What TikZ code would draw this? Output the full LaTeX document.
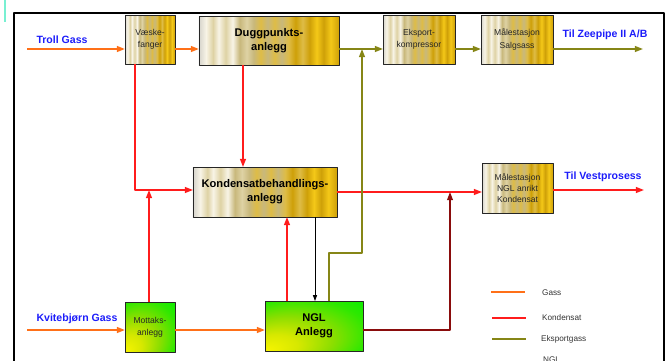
\documentclass[tikz,border=0pt]{standalone}
\usepackage{fontspec}
\setmainfont{Liberation Sans}
\usetikzlibrary{arrows.meta,calc}
\definecolor{gasorange}{RGB}{255,112,24}
\definecolor{kondred}{RGB}{255,28,28}
\definecolor{eksolive}{RGB}{134,134,22}
\definecolor{ngldark}{RGB}{138,12,12}
\definecolor{labelblue}{RGB}{28,28,250}
\definecolor{markteal}{RGB}{120,240,210}
% colours of the striped gold boxes
\definecolor{gA}{RGB}{214,212,204}
\definecolor{gB}{RGB}{248,244,230}
\definecolor{gC}{RGB}{222,210,164}
\definecolor{gD}{RGB}{200,184,124}
\definecolor{gE}{RGB}{222,188,70}
\definecolor{gF}{RGB}{244,200,24}
\definecolor{gG}{RGB}{206,160,8}
\definecolor{yA}{RGB}{248,245,0}
\definecolor{yB}{RGB}{215,232,0}
\definecolor{yC}{RGB}{140,222,0}
\definecolor{yD}{RGB}{45,232,0}
\definecolor{yE}{RGB}{0,242,0}
\pgfdeclarehorizontalshading{goldbars}{100bp}{color(0bp)=(gA); color(25bp)=(gA);
  color(27.5bp)=(gB); color(30bp)=(gC); color(32bp)=(gB); color(34.5bp)=(gC);
  color(37bp)=(gB); color(39.5bp)=(gD); color(42bp)=(gC); color(44.5bp)=(gD);
  color(47bp)=(gE); color(49.5bp)=(gD); color(52bp)=(gE); color(54.5bp)=(gD);
  color(57bp)=(gE); color(59.5bp)=(gG); color(62bp)=(gE); color(64.5bp)=(gG);
  color(67bp)=(gF); color(69.5bp)=(gG); color(72bp)=(gF); color(75bp)=(gG);
  color(100bp)=(gG)}
\pgfdeclareradialshading{greenfan}{\pgfpoint{-25bp}{-25bp}}{color(0bp)=(yA);
  color(11bp)=(yB); color(23bp)=(yC); color(35bp)=(yD); color(44bp)=(yE);
  color(50bp)=(yE)}

\begin{document}
\begin{tikzpicture}[x=0.03cm,y=-0.03cm,line join=round,
  goldbox/.style={draw=black!85,line width=0.8pt,shade,shading=goldbars,
    inner sep=0pt,outer sep=0pt,align=center,text=black!85},
  greenbox/.style={goldbox,shading=greenfan},
  smalltxt/.style={font=\fontsize{7.3}{10.5}\selectfont},
  bigtxt/.style={font=\bfseries\fontsize{9.5}{12}\selectfont,text=black},
  feed/.style={text=labelblue,font=\bfseries\fontsize{9}{11}\selectfont},
  flowtip/.style={-{Triangle[length=7pt,width=5pt]}},
  gasflow/.style={gasorange,line width=1.5pt,flowtip},
  kondflow/.style={kondred,line width=1.4pt,flowtip},
  eksflow/.style={eksolive,line width=1.4pt,flowtip},
  nglflow/.style={ngldark,line width=1.1pt,flowtip},
  legtxt/.style={font=\fontsize{7}{9}\selectfont,text=black!80,anchor=west}]
  \clip (0,0) rectangle (668,360);
  \draw[markteal,line width=1.5pt] (5,0) -- (5,22);
  \draw[line width=2.4pt] (14,13) rectangle (664,420);

  % process units
  \node[goldbox,smalltxt,minimum width=1.5cm,minimum height=1.47cm] (vaske) at (150,39.5) {Væske-\\fanger};
  \node[goldbox,bigtxt,minimum width=4.2cm,minimum height=1.47cm] (dugg) at (269,40.5) {Duggpunkts-\\anlegg};
  \node[goldbox,smalltxt,minimum width=2.16cm,minimum height=1.47cm] (kompr) at (419,39.5) {Eksport-\\kompressor};
  \node[goldbox,smalltxt,minimum width=2.16cm,minimum height=1.47cm] (salg) at (517,39.5) {Målestasjon\\Salgsass};
  \node[goldbox,bigtxt,minimum width=4.32cm,minimum height=1.5cm] (kondbeh) at (265,192) {Kondensatbehandlings-\\anlegg};
  \node[goldbox,smalltxt,minimum width=2.13cm,minimum height=1.5cm,font=\fontsize{7.3}{9.4}\selectfont] (malngl) at (517.5,188) {Målestasjon\\NGL anrikt\\Kondensat};
  \node[greenbox,smalltxt,minimum width=1.5cm,minimum height=1.5cm] (mottak) at (150,327) {Mottaks-\\anlegg};
  \node[greenbox,bigtxt,minimum width=2.94cm,minimum height=1.5cm] (nglanl) at (314,326) {NGL\\Anlegg};

  % feeds and products
  \node[feed] (troll) at (62,40) {Troll Gass};
  \node[feed] (kvite) at (77,319) {Kvitebjørn Gass};
  \node[feed] (zeepipe) at (605,35) {Til Zeepipe II A/B};
  \node[feed] (vest) at (603,177) {Til Vestprosess};

  \coordinate (trollin) at (27,49); \coordinate (zeeout) at (643,49);
  \coordinate (kvitin) at (27,330); \coordinate (vestout) at (644,190);
  \coordinate (kondjoin) at (135,190);
  \coordinate (ekspbend) at (362,253); \coordinate (nglbend) at (450,330);
  \coordinate (mottup) at ($(mottak.north)+(-1,0)$);
  \coordinate (duggdn) at ($(dugg.south)+(-26,0)$);
  \coordinate (nglup) at ($(nglanl.north)+(-27,0)$);
  \coordinate (konddn) at ($(kondbeh.south)+(50,0)$);
  \coordinate (ekspup) at ($(nglanl.north)+(15,0)$);

  % gas
  \draw[gasflow] (trollin) -- (trollin -| vaske.west);
  \draw[gasflow] (trollin -| vaske.east) -- (trollin -| dugg.west);
  \draw[gasflow] (kvitin) -- (kvitin -| mottak.west);
  \draw[gasflow] (kvitin -| mottak.east) -- (kvitin -| nglanl.west);
  % kondensat
  \draw[kondflow] (vaske.south -| kondjoin) -- (kondjoin) -- (kondjoin -| kondbeh.west);
  \draw[kondflow] (mottup) -- (mottup |- kondjoin);
  \draw[kondflow] (duggdn) -- (duggdn |- kondbeh.north);
  \draw[kondflow] (nglup) -- (nglup |- kondbeh.south);
  \draw[kondflow] (kondbeh.east) -- (kondbeh.east -| malngl.west);
  \draw[kondflow] (malngl.east |- vestout) -- (vestout);
  \draw[black,line width=0.6pt,-{Triangle[length=5pt,width=3.5pt]}] (konddn) -- (konddn |- nglanl.north);
  % eksportgass
  \draw[eksflow] (trollin -| dugg.east) -- (trollin -| kompr.west);
  \draw[eksflow] (trollin -| kompr.east) -- (trollin -| salg.west);
  \draw[eksflow] (trollin -| salg.east) -- (zeeout);
  \draw[eksflow] (ekspup) -- (ekspup |- ekspbend) -- (ekspbend) -- (ekspbend |- trollin);
  % NGL
  \draw[nglflow] (nglanl.east |- nglbend) -- (nglbend) -- (nglbend |- kondbeh.east);

  % legend
  \draw[gasorange,line width=1.2pt] (491,292) -- (525,292);
  \draw[kondred,line width=1.2pt] (492,318) -- (526,318);
  \draw[eksolive,line width=1.2pt] (492,339) -- (526,339);
  \node[legtxt] (leggass) at (538,293) {Gass};
  \node[legtxt] (legkond) at (538,318) {Kondensat};
  \node[legtxt] (legeksp) at (537,339) {Eksportgass};
  \node[legtxt,anchor=base west] (legngl) at (539,362) {NGL};
\end{tikzpicture}
\end{document}
